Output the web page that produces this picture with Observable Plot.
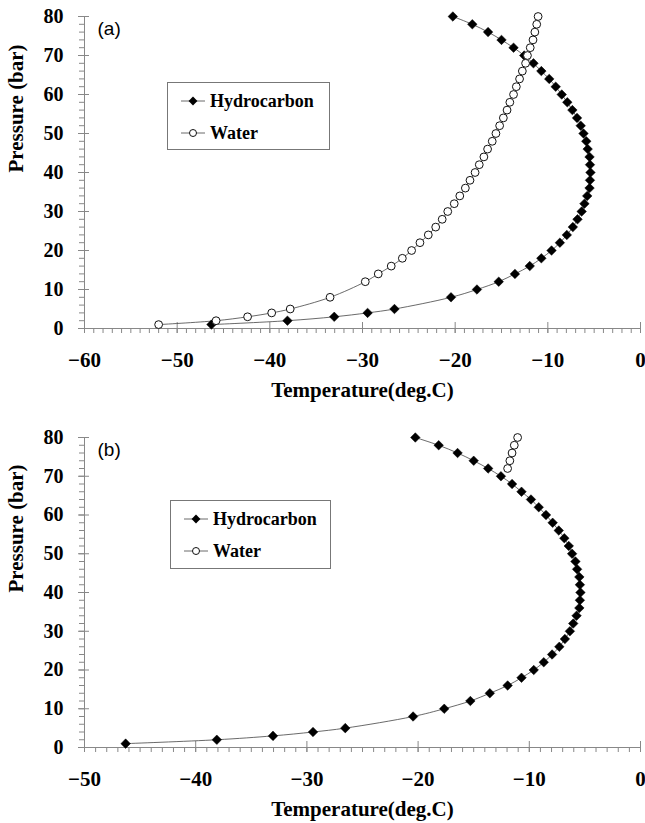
<!DOCTYPE html>
<html><head><meta charset="utf-8">
<script src="https://cdn.jsdelivr.net/npm/d3@7"></script>
<script src="https://cdn.jsdelivr.net/npm/@observablehq/plot@0.6"></script>
<style>
body{margin:0;background:#fff;}
#root{position:relative;width:645px;height:823px;overflow:hidden;background:#fff;}
.panel{position:absolute;left:0;}
.legend{position:absolute;}
</style></head><body><div id="root"></div>
<script>
// Hydrocarbon hydrate curve (same in both panels)
const hcPressure = [1,2,3,4,5,8,10,12,14,16,18,20,22,24,26,28,30,32,34,36,38,40,42,44,46,48,50,52,54,56,58,60,62,64,66,68,70,72,74,76,78,80];
const hcTemp = [-46.3,-38.1,-33.05,-29.45,-26.55,-20.45,-17.65,-15.3,-13.55,-11.95,-10.7,-9.6,-8.7,-7.95,-7.3,-6.8,-6.35,-6.05,-5.75,-5.5,-5.45,-5.4,-5.45,-5.5,-5.7,-5.85,-6.15,-6.45,-6.85,-7.35,-7.9,-8.5,-9.15,-9.85,-10.7,-11.55,-12.55,-13.7,-15.0,-16.45,-18.15,-20.25];
// Water curve, panel (a)
const waterPressureA = [1,2,3,4,5,8,12,14,16,18,20,22,24,26,28,30,32,34,36,38,40,42,44,46,48,50,52,54,56,58,60,62,64,66,68,70,72,74,76,78,80];
const waterTempA = [-52.0,-45.8,-42.4,-39.8,-37.8,-33.5,-29.7,-28.3,-26.9,-25.7,-24.7,-23.8,-22.9,-22.1,-21.4,-20.8,-20.1,-19.5,-18.9,-18.4,-17.85,-17.4,-16.9,-16.5,-16.0,-15.6,-15.2,-14.8,-14.4,-14.1,-13.7,-13.4,-13.05,-12.75,-12.4,-12.2,-11.9,-11.6,-11.4,-11.2,-11.05];
// Water curve, panel (b)
const waterPressureB = [72,74,76,78,80];
const waterTempB = [-11.95,-11.75,-11.55,-11.35,-11.05];
// Tick labels
const xTicksA = [-60,-50,-40,-30,-20,-10,0];
const xTicksB = [-50,-40,-30,-20,-10,0];
const yTicks = [0,10,20,30,40,50,60,70,80];
const seriesNames = ["Hydrocarbon","Water"];
const panelLabels = ["(a)","(b)"];
const xTitle = "Temperature(deg.C)";
const yTitle = "Pressure (bar)";

const zip = (ps, ts) => ps.map((p, i) => ({P: p, T: ts[i]}));
const hc = zip(hcPressure, hcTemp);
const waterA = zip(waterPressureA, waterTempA);
const waterB = zip(waterPressureB, waterTempB);

const SERIF = "Liberation Serif";
const AX = "#888";

function panel({xTicks, water, label, height, marginTop, marginBottom}) {
  const xmin = xTicks[0], xmax = xTicks[xTicks.length - 1];
  const minorX = d3.range(xmin, xmax + 0.5, 1);
  const minorY = d3.range(0, 81, 2);
  const svg = Plot.plot({
    width: 645, height, marginLeft: 84, marginRight: 5, marginTop, marginBottom,
    x: {domain: [xmin, xmax]},
    y: {domain: [0, 80]},
    style: {background: "#fff", overflow: "visible"},
    marks: [
      Plot.ruleY([0], {stroke: AX}),
      Plot.ruleX([xmin], {stroke: AX}),
      Plot.axisX({ticks: minorX, tickSize: 5, stroke: AX, tickFormat: () => "", label: null}),
      Plot.axisX({ticks: xTicks, tickSize: -6, stroke: AX, tickFormat: () => "", label: null}),
      Plot.axisX({ticks: xTicks, tickSize: 5, stroke: AX, tickPadding: 19, fill: "#000", label: null}),
      Plot.axisY({ticks: minorY, tickSize: 5, stroke: AX, tickFormat: () => "", label: null}),
      Plot.axisY({ticks: yTicks, tickSize: -5, stroke: AX, tickFormat: () => "", label: null}),
      Plot.axisY({ticks: yTicks, tickSize: 6, stroke: AX, tickPadding: 15, fill: "#000", label: null}),
      Plot.text([xTitle], {frameAnchor: "bottom", dy: 62, lineAnchor: "middle"}),
      Plot.text([yTitle], {frameAnchor: "left", dx: -68, rotate: -90, lineAnchor: "middle"}),
      Plot.text([label], {frameAnchor: "top-left", dx: 13, dy: 12, textAnchor: "start", lineAnchor: "middle"}),
      Plot.line(hc, {x: "T", y: "P", curve: "catmull-rom", stroke: "#444", strokeWidth: 0.8}),
      Plot.line(water, {x: "T", y: "P", curve: "catmull-rom", stroke: "#444", strokeWidth: 0.8}),
      Plot.dot(hc, {x: "T", y: "P", symbol: "diamond2", r: 4.3, fill: "#000", stroke: "#000", strokeWidth: 0.5}),
      Plot.dot(water, {x: "T", y: "P", symbol: "circle", r: 3.9, fill: "#fff", stroke: "#111", strokeWidth: 1})
    ]
  });
  const s = d3.select(svg);
  s.selectAll("text").each(function() {
    const t = d3.select(this);
    const txt = t.text();
    if (txt === "") return;
    if (txt === label) {
      t.style("font-family", "Liberation Sans").style("font-size", "19px").style("font-weight", "normal");
    } else if (txt === xTitle || txt === yTitle) {
      t.style("font-family", SERIF).style("font-size", "21px").style("font-weight", "bold");
    } else {
      const isY = this.closest('g[aria-label="y-axis tick label"]');
      t.style("font-family", SERIF).style("font-size", isY ? "20px" : "21px").style("font-weight", "bold").style("fill", "#000");
    }
  });
  return svg;
}

function legend(left, top, w, h) {
  const svg = d3.create("svg").attr("class", "legend").attr("width", w).attr("height", h)
    .style("left", left + "px").style("top", top + "px");
  svg.append("rect").attr("x", 0.5).attr("y", 0.5).attr("width", w - 1).attr("height", h - 1)
    .attr("fill", "#fff").attr("stroke", "#777").attr("stroke-width", 1);
  const rows = [19, 51];
  seriesNames.forEach((name, i) => {
    const y = rows[i];
    svg.append("line").attr("x1", 14).attr("x2", 38).attr("y1", y).attr("y2", y).attr("stroke", "#444").attr("stroke-width", 0.8);
    if (i === 0) {
      svg.append("path").attr("d", d3.symbol(d3.symbolDiamond2, 50)()).attr("transform", `translate(26,${y})`).attr("fill", "#000");
    } else {
      svg.append("circle").attr("cx", 26).attr("cy", y).attr("r", 3.5).attr("fill", "#fff").attr("stroke", "#111");
    }
    svg.append("text").attr("x", 43).attr("y", y).attr("dy", "0.35em").text(name)
      .attr("font-family", SERIF).attr("font-weight", "bold").attr("font-size", 18);
  });
  return svg.node();
}

const root = document.getElementById("root");
const pa = panel({xTicks: xTicksA, water: waterA, label: panelLabels[0], height: 410, marginTop: 16, marginBottom: 82});
pa.classList.add("panel"); pa.style.top = "0px";
const pb = panel({xTicks: xTicksB, water: waterB, label: panelLabels[1], height: 413, marginTop: 27, marginBottom: 76});
pb.classList.add("panel"); pb.style.top = "410px";
root.appendChild(pa);
root.appendChild(pb);
root.appendChild(legend(167, 82, 163, 68));
root.appendChild(legend(170, 500, 161, 69));
</script></body></html>
